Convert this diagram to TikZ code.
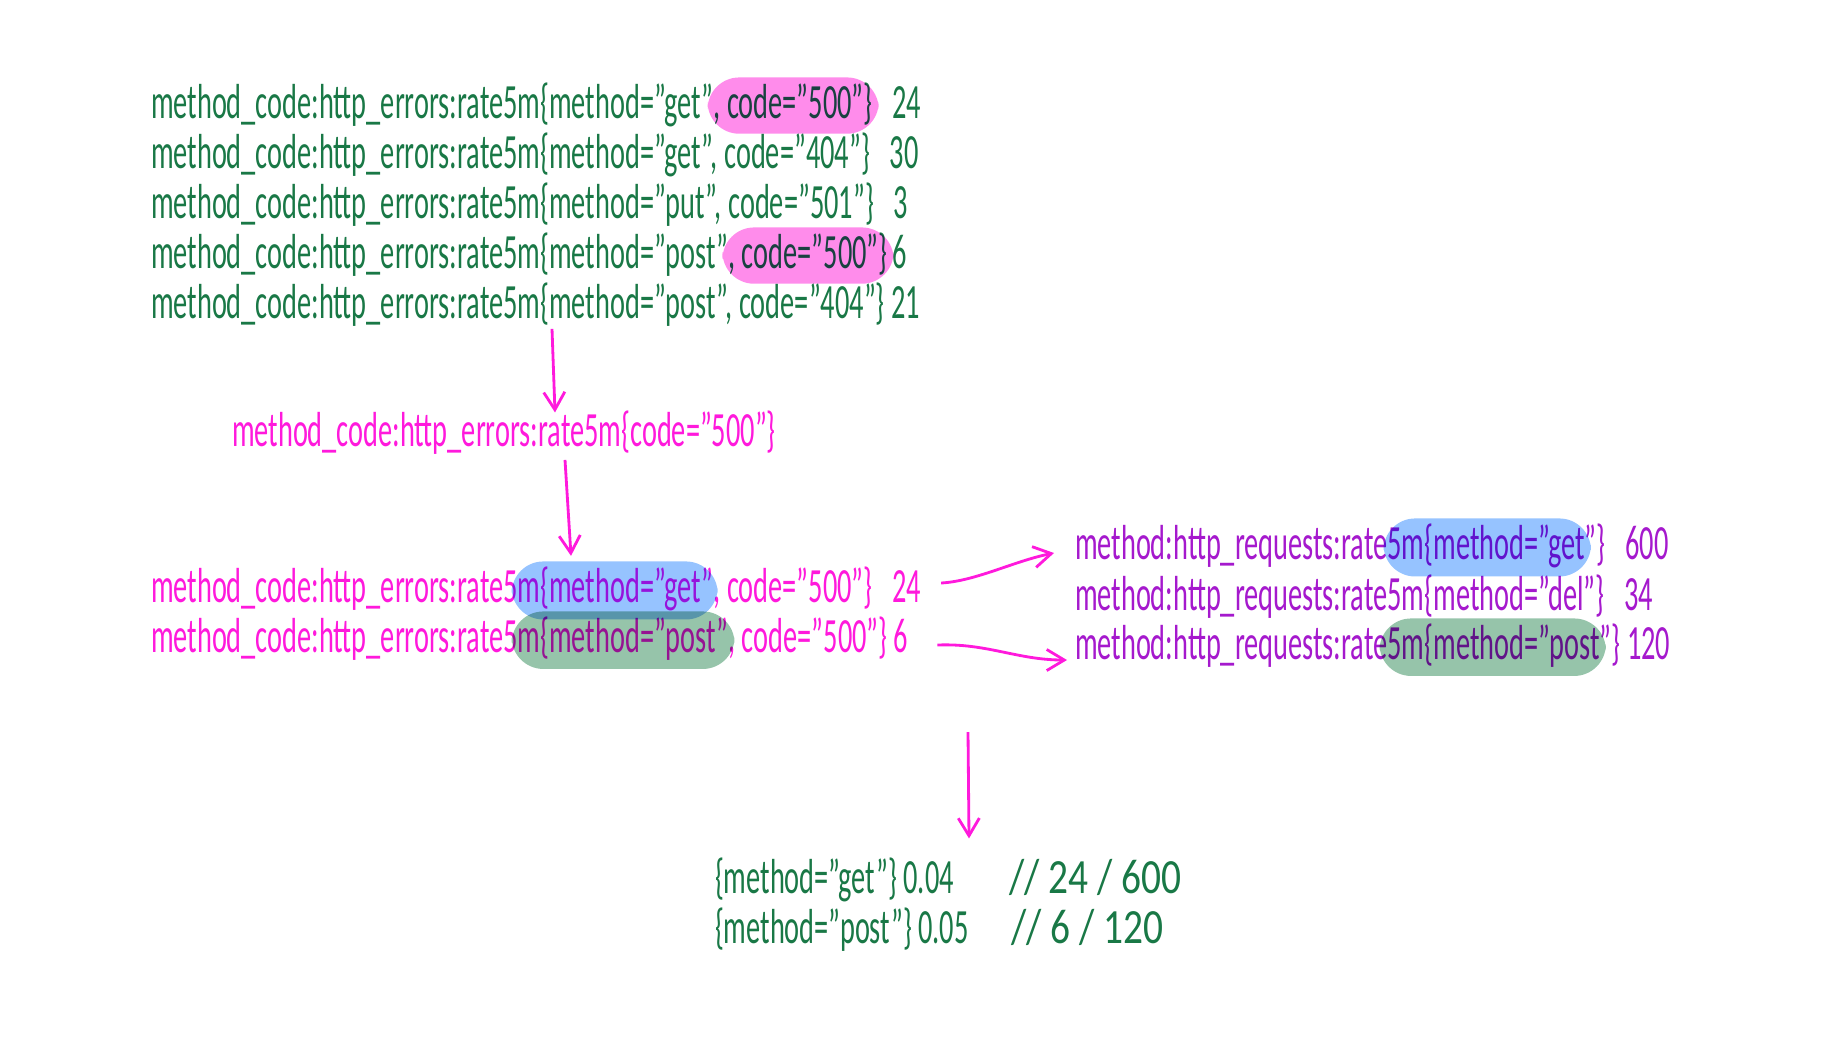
\documentclass[tikz,border=0pt]{standalone}
\usepackage{fontspec}
\setmainfont{Carlito}[FakeStretch=0.576]
\newfontfamily\widedigits{Carlito}[FakeStretch=0.8]
\usetikzlibrary{arrows.meta, positioning}
\definecolor{textgreen}{RGB}{25,120,70}
\definecolor{textpink}{RGB}{255,25,220}
\definecolor{textpurple}{RGB}{165,25,205}
\definecolor{hlpink}{RGB}{255,140,235}
\definecolor{hlblue}{RGB}{150,195,255}
\definecolor{hlgreen}{RGB}{150,196,170}

\begin{document}
\begin{tikzpicture}[x=0.01cm, y=-0.01cm, every node/.style={inner sep=0pt, outer sep=0pt,
						anchor=base west, font=\fontsize{14}{16}\selectfont},
						green/.style={text=textgreen}, pink/.style={text=textpink}, purple/.style={text=textpurple},
						arr/.style={draw=textpink, line width=0.8pt, -{Straight Barb[length=5pt, width=6pt]}},
						blob/.style={rounded corners=9pt}]
			\useasboundingbox (0,0) rectangle (1822,1038);

			\node[green] (e1a) at (151,118) {method\_code:http\_errors:rate5m\{method="get"};
			\node[green] (e1b) at (e1a.base east) {, code="500"\}};
			\node[green] (e1c) at (e1b.base east) {\hspace{0.4em}24};
			\node[green] (e2) at (151,168) {method\_code:http\_errors:rate5m\{method="get", code="404"\}\hspace{0.4em}30};
			\node[green] (e3) at (151,218) {method\_code:http\_errors:rate5m\{method="put", code="501"\}\hspace{0.4em}3};
			\node[green] (e4a) at (151,268) {method\_code:http\_errors:rate5m\{method="post"};
			\node[green] (e4b) at (e4a.base east) {, code="500"\}};
			\node[green] (e4c) at (e4b.base east) {\hspace{0.1em}6};
			\node[green] (e5) at (151,318) {method\_code:http\_errors:rate5m\{method="post", code="404"\} 21};

			\node[pink] (mid) at (232,446) {method\_code:http\_errors:rate5m\{code="500"\}};

			\node[pink] (p1a) at (151,602) {method\_code:http\_errors:rate5};
			\node[pink] (p1b) at (p1a.base east) {m\{method="get"};
			\node[pink] (p1c) at (p1b.base east) {, code="500"\}\hspace{0.4em}24};
			\node[pink] (p2a) at (151,652) {method\_code:http\_errors:rate5};
			\node[pink] (p2b) at (p2a.base east) {m\{method="post"};
			\node[pink] (p2c) at (p2b.base east) {, code="500"\} 6};

			\node[purple] (q1a) at (1075,559) {method:http\_requests:rate};
			\node[purple] (q1b) at (q1a.base east) {5m\{method="get};
			\node[purple] (q1c) at (q1b.base east) {"\}\hspace{0.4em}600};
			\node[purple] (q2) at (1075,610) {method:http\_requests:rate5m\{method="del"\}\hspace{0.4em}34};
			\node[purple] (q3a) at (1075,659) {method:http\_requests:rate};
			\node[purple] (q3b) at (q3a.base east) {5m\{method="post};
			\node[purple] (q3c) at (q3b.base east) {"\} 120};

			\node[green] (b1a) at (715,893) {\{method="get"\} 0.04};
			\node[green] (b1b) at (1009,893) {\widedigits // 24 / 600};
			\node[green] (b2a) at (715,943) {\{method="post"\} 0.05};
			\node[green] (b2b) at (1011,943) {\widedigits // 6 / 120};

			\begin{scope}[blend mode=multiply]
				\fill[hlpink, blob] ([shift={(-6,9)}]e1b.south west) rectangle ([shift={(6,-5)}]e1b.north east);
				\fill[hlpink, blob] ([shift={(-6,9)}]e4b.south west) rectangle ([shift={(6,-5)}]e4b.north east);
				\fill[hlblue, blob] ([shift={(-6,9)}]p1b.south west) rectangle ([shift={(4,-5)}]p1b.north east);
				\fill[hlgreen, blob] ([shift={(-6,9)}]p2b.south west) rectangle ([shift={(6,-5)}]p2b.north east);
				\fill[hlblue, blob] ([shift={(-4,9)}]q1b.south west) rectangle ([shift={(6,-5)}]q1b.north east);
				\fill[hlgreen, blob] ([shift={(-8,9)}]q3b.south west) rectangle ([shift={(6,-5)}]q3b.north east);
			\end{scope}

			\draw[arr] ([shift={(401,3)}]e5.south west) -- ([shift={(404,2)}]e5.south west |- mid.north);
			\draw[arr] ([shift={(333,6)}]mid.south west) -- ([shift={(339,-12)}]mid.south west |- p1a.north);
			\draw[arr] ([shift={(20,-19)}]p1c.base east) .. controls +(35,-2) and +(-40,8) .. ([shift={(-21,-6)}]q1a.base west);
			\draw[arr] ([shift={(29,-7)}]p2c.base east) .. controls +(50,-2) and +(-50,0) .. ([shift={(-8,1)}]q3a.base west);
			\draw[arr] ([shift={(817,80)}]p2a.base west) -- ([shift={(254,-19)}]b1a.north west);
		\end{tikzpicture}
\end{document}
